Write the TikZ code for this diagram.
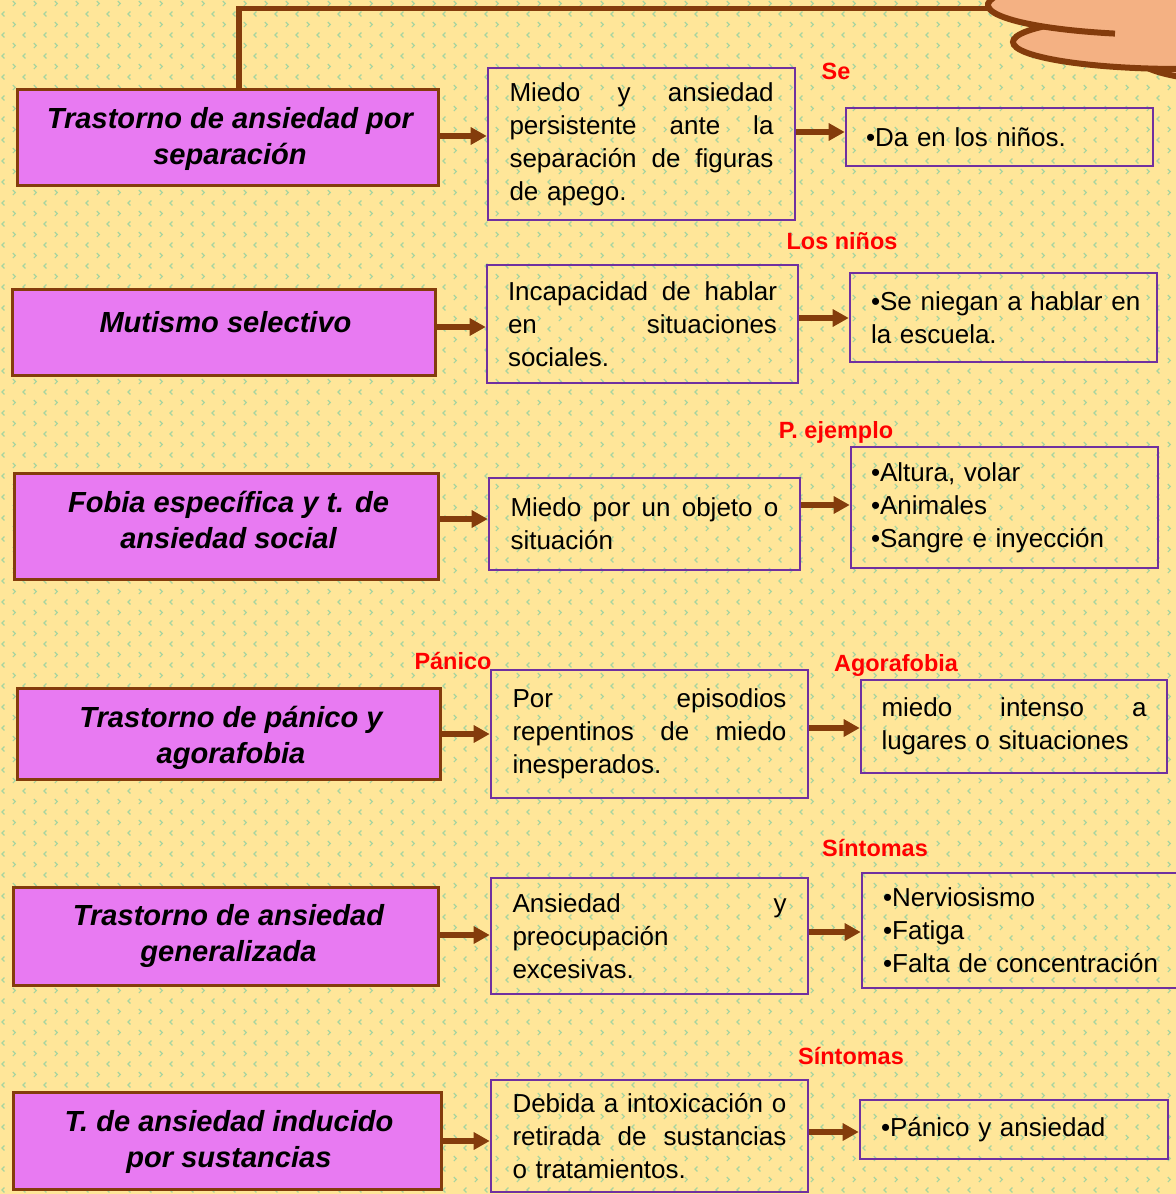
\documentclass[tikz,border=0pt]{standalone}
\usepackage{fontspec}
\setmainfont{Liberation Sans}
\usetikzlibrary{arrows.meta,patterns}
\definecolor{bgy}{HTML}{FFE699}
\definecolor{chevg}{HTML}{A6D4A0}
\definecolor{magf}{HTML}{E87AF2}
\definecolor{brn}{HTML}{843C0C}
\definecolor{purp}{HTML}{7030A0}
\definecolor{peach}{HTML}{F4B183}
\pgfdeclarepatternformonly{chev}{\pgfqpoint{0pt}{0pt}}{\pgfqpoint{16.1pt}{16.05pt}}{\pgfqpoint{16.1pt}{16.05pt}}{%
  \pgfsetlinewidth{0.9pt}%
  \pgfpathmoveto{\pgfqpoint{4.2pt}{5.8pt}}\pgfpathlineto{\pgfqpoint{2.3pt}{3.9pt}}\pgfpathlineto{\pgfqpoint{4.2pt}{2.0pt}}%
  \pgfpathmoveto{\pgfqpoint{10.6pt}{13.8pt}}\pgfpathlineto{\pgfqpoint{12.5pt}{11.9pt}}\pgfpathlineto{\pgfqpoint{10.6pt}{10.0pt}}%
  \pgfusepath{stroke}%
}
\newcommand\jl[2]{\leavevmode\hbox to #1{\spaceskip=\fontdimen2\font plus 1fil\relax #2}}
\newcommand\lft[1]{\mbox{#1}}
\tikzset{
  lbox/.style={draw=brn, line width=2.25pt, fill=magf, inner sep=0pt},
  ltext/.style={align=center, inner sep=0pt,
    font=\bfseries\itshape\fontsize{21.8}{27}\selectfont},
  mbox/.style={draw=purp, line width=1.9pt, align=left, inner sep=0pt,
    font=\fontsize{19.5}{24.75}\selectfont},
  lbl/.style={text=red, anchor=base, inner sep=0pt, font=\bfseries\fontsize{17.6}{20}\selectfont},
  arr/.style={draw=brn, line width=4pt, -{Triangle[length=12pt,width=12.5pt]}},
  brline/.style={draw=brn, line width=4pt},
}
\begin{document}
\begin{tikzpicture}[x=0.75pt,y=-0.75pt]
\useasboundingbox (0,0) rectangle (1176,1194);
\clip (0,0) rectangle (1176,1194);
\fill[bgy] (0,0) rectangle (1176,1194);
\fill[pattern=chev, pattern color=chevg] (0,0) rectangle (1176,1194);

% left boxes
\node[lbox, minimum width=315.75pt, minimum height=72pt] (L1) at (227.5,138) {};
\node[lbox, minimum width=317.25pt, minimum height=63.75pt] (L2) at (223.5,332.5) {};
\node[lbox, minimum width=318pt, minimum height=79.5pt] (L3) at (226,526) {};
\node[lbox, minimum width=317.25pt, minimum height=68.25pt] (L4) at (228.5,733.5) {};
\node[lbox, minimum width=318.75pt, minimum height=73.5pt] (L5) at (225.5,936) {};
\node[lbox, minimum width=321pt, minimum height=72.75pt] (L6) at (227,1140.5) {};
\node[ltext] (L1t) at (230,139) {Trastorno de ansiedad por\\separación};
\node[ltext] (L2t) at (225.5,322.5) {Mutismo selectivo};
\node[ltext] (L3t) at (228.5,519.5) {Fobia específica y t. de\\ansiedad social};
\node[ltext] (L4t) at (231,737.5) {Trastorno de pánico y\\agorafobia};
\node[ltext] (L5t) at (228.5,936) {Trastorno de ansiedad\\generalizada};
\node[ltext] (L6t) at (229,1141.5) {T. de ansiedad inducido\\por sustancias};

% middle boxes
\node[mbox, text width=198pt, minimum width=230.25pt, minimum height=114pt] (M1) at (641.5,144)
  {\jl{198pt}{Miedo y ansiedad}\\\jl{198pt}{persistente ante la}\\\jl{198pt}{separación de figuras}\\de apego.};
\node[mbox, text width=201.75pt, minimum width=233.25pt, minimum height=88.5pt] (M2) at (642.5,324)
  {\jl{201.75pt}{Incapacidad de hablar}\\\jl{201.75pt}{en situaciones}\\sociales.};
\node[mbox, text width=201pt, minimum width=233.25pt, minimum height=69pt] (M3) at (644.5,524)
  {\jl{201pt}{Miedo por un objeto o}\\situación};
\node[mbox, text width=205.5pt, minimum width=237.75pt, minimum height=96pt] (M4) at (649.5,734)
  {\jl{205.5pt}{Por episodios}\\\jl{205.5pt}{repentinos de miedo}\\inesperados.};
\node[mbox, text width=205.5pt, minimum width=237.75pt, minimum height=87pt] (M5) at (649.5,936)
  {\jl{205.5pt}{Ansiedad y}\\preocupación\\excesivas.};
\node[mbox, text width=205.5pt, minimum width=237.75pt, minimum height=84pt] (M6) at (649.5,1136)
  {\jl{205.5pt}{Debida a intoxicación o}\\\jl{205.5pt}{retirada de sustancias}\\o tratamientos.};

% right boxes
\node[mbox, text width=200.25pt, minimum width=230.25pt, minimum height=43.5pt] (R1) at (999.5,137)
  {\lft{•Da en los niños.}};
\node[mbox, text width=198.75pt, minimum width=230.25pt, minimum height=66.75pt] (R2) at (1003.5,317.5)
  {\lft{•Se niegan a hablar en}\\\lft{la escuela.}};
\node[mbox, text width=200.25pt, minimum width=230.25pt, minimum height=90.75pt] (R3) at (1004.5,507.5)
  {\lft{•Altura, volar}\\\lft{•Animales}\\\lft{•Sangre e inyección}};
\node[mbox, text width=198.75pt, minimum width=229.5pt, minimum height=69.75pt] (R4) at (1014,726.5)
  {\jl{198.75pt}{miedo intenso a}\\\lft{lugares o situaciones}};
\node[mbox, text width=208.5pt, minimum width=240pt, minimum height=86.25pt] (R5) at (1022,930.5)
  {\lft{•Nerviosismo}\\\lft{•Fatiga}\\\lft{•Falta de concentración}};
\node[mbox, text width=199.5pt, minimum width=231pt, minimum height=44.25pt] (R6) at (1014,1129.5)
  {\lft{•Pánico y ansiedad}};

% red labels
\node[lbl] (t1) at (836,80) {Se};
\node[lbl] (t2) at (842,250) {Los niños};
\node[lbl] (t3) at (836,438) {P. ejemplo};
\node[lbl] (t4) at (453,669) {Pánico};
\node[lbl] (t5) at (896,671) {Agorafobia};
\node[lbl] (t6) at (875,856) {Síntomas};
\node[lbl] (t7) at (851,1064) {Síntomas};

% arrows left -> middle
\draw[arr] (L1.east |- 0,136) -- (M1.west |- 0,136);
\draw[arr] (L2.east |- 0,327) -- (M2.west |- 0,327);
\draw[arr] (L3.east |- 0,519) -- (M3.west |- 0,519);
\draw[arr] (L4.east |- 0,734) -- (M4.west |- 0,734);
\draw[arr] (L5.east |- 0,935) -- (M5.west |- 0,935);
\draw[arr] (L6.east |- 0,1141) -- (M6.west |- 0,1141);
% arrows middle -> right
\draw[arr] (M1.east |- 0,132) -- (R1.west |- 0,132);
\draw[arr] (M2.east |- 0,318) -- (R2.west |- 0,318);
\draw[arr] (M3.east |- 0,505) -- (R3.west |- 0,505);
\draw[arr] (M4.east |- 0,728) -- (R4.west |- 0,728);
\draw[arr] (M5.east |- 0,932) -- (R5.west |- 0,932);
\draw[arr] (M6.east |- 0,1132) -- (R6.west |- 0,1132);

% top connector to cloud
\coordinate (cl) at (995,8.5);
\draw[brline] (L1.north -| 239,0) -- (239,8.5) -- (cl);

% cloud
\filldraw[fill=peach, draw=brn, line width=4.5pt] (1290,60) ellipse [x radius=150, y radius=25];
\filldraw[fill=peach, draw=brn, line width=4.5pt] (1180,42) ellipse [x radius=167, y radius=27];
\fill[peach] (1170,5) ellipse [x radius=182, y radius=30];
\draw[draw=brn, line width=4.5pt] ([shift={(250:182 and 30)}]1170,5) arc [start angle=250, end angle=107.6, x radius=182, y radius=30];
\end{tikzpicture}
\end{document}
